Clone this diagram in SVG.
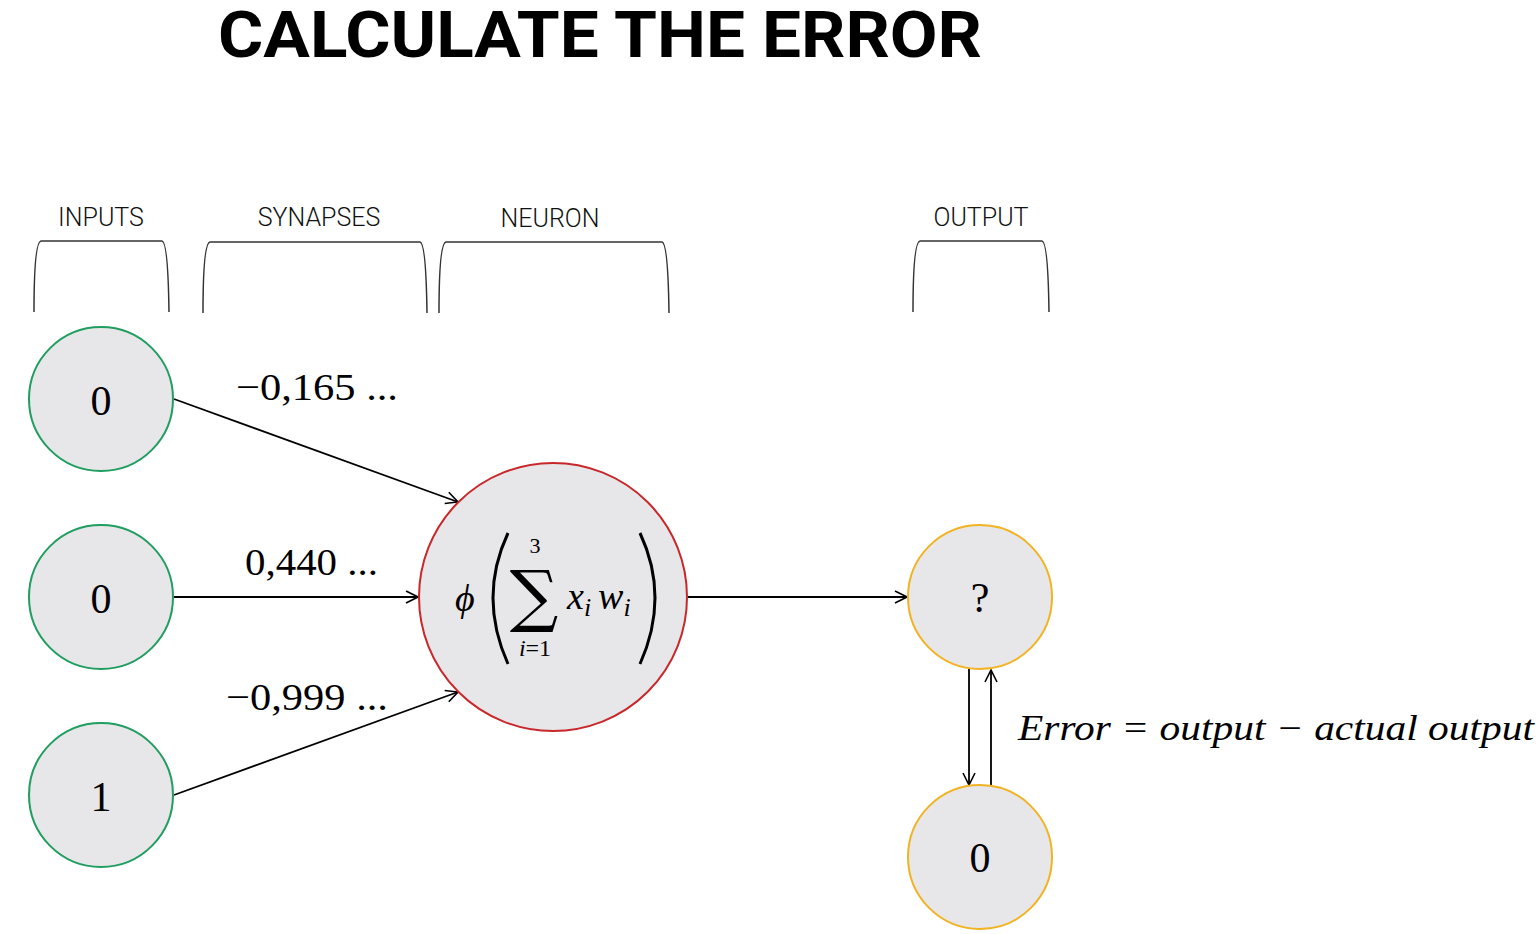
<svg xmlns="http://www.w3.org/2000/svg" width="1538" height="934" viewBox="0 0 1538 934">
<defs>
<marker id="arr" viewBox="0 0 14 14" refX="13" refY="7" markerWidth="14" markerHeight="14" markerUnits="userSpaceOnUse" orient="auto">
<path d="M1,1 L13,7 L1,13" fill="none" stroke="#000" stroke-width="1.6"/>
</marker>
<style>
.hdr{font-family:Roboto,"DejaVu Sans",sans-serif;font-weight:300;font-size:25px;fill:#111;text-anchor:middle}
.brk{fill:none;stroke:#333;stroke-width:1.5}
.in{fill:#e7e6e8;stroke:#1f9e5f;stroke-width:2}
.out{fill:#e7e6e8;stroke:#f2b322;stroke-width:2}
.neu{fill:#e7e6e8;stroke:#c8282b;stroke-width:2}
.num{font-family:"Liberation Serif","DejaVu Serif",serif;font-size:42px;fill:#000;text-anchor:middle}
.w{font-family:"Liberation Serif","DejaVu Serif",serif;font-size:38px;fill:#000}
.it{font-family:"Liberation Serif","DejaVu Serif",serif;font-style:italic;fill:#000}
.ln{stroke:#000;stroke-width:1.8;fill:none}
</style>
</defs>
<rect width="1538" height="934" fill="#fff"/>
<text x="218" y="57" font-family="Roboto,'DejaVu Sans',sans-serif" font-weight="700" font-size="65" textLength="764" lengthAdjust="spacingAndGlyphs" fill="#000">CALCULATE THE ERROR</text>

<g id="headers">
<text class="hdr" x="101" y="226">INPUTS</text>
<text class="hdr" x="319" y="226">SYNAPSES</text>
<text class="hdr" x="550" y="227">NEURON</text>
<text class="hdr" x="981" y="226">OUTPUT</text>
<path class="brk" d="M34,312 Q34,242 41,241 L162,241 Q168,242 169,312"/>
<path class="brk" d="M203,313 Q203,243 210,242 L420,242 Q426,243 427,313"/>
<path class="brk" d="M439,313 Q439,243 446,242 L662,242 Q668,243 669,313"/>
<path class="brk" d="M913,312 Q913,242 920,241 L1042,241 Q1048,242 1049,312"/>
</g>

<g id="connectors">
<line class="ln" x1="174" y1="399" x2="458" y2="502" marker-end="url(#arr)"/>
<line class="ln" x1="174" y1="597" x2="418" y2="597" marker-end="url(#arr)"/>
<line class="ln" x1="174" y1="795" x2="458" y2="692" marker-end="url(#arr)"/>
<line class="ln" x1="688" y1="597" x2="907" y2="597" marker-end="url(#arr)"/>
<line class="ln" x1="969" y1="669" x2="969" y2="785" marker-end="url(#arr)"/>
<line class="ln" x1="991" y1="785" x2="991" y2="670" marker-end="url(#arr)"/>
<text class="w" x="236" y="400" textLength="162" lengthAdjust="spacingAndGlyphs">−0,165 ...</text>
<text class="w" x="245" y="575" textLength="133" lengthAdjust="spacingAndGlyphs">0,440 ...</text>
<text class="w" x="226" y="710" textLength="162" lengthAdjust="spacingAndGlyphs">−0,999 ...</text>
<text class="it" x="1018" y="740" font-size="36" textLength="516" lengthAdjust="spacingAndGlyphs">Error = output  − actual output</text>
</g>

<g id="input1"><circle class="in" cx="101" cy="399" r="72"/><text class="num" x="101" y="415">0</text></g>
<g id="input2"><circle class="in" cx="101" cy="597" r="72"/><text class="num" x="101" y="613">0</text></g>
<g id="input3"><circle class="in" cx="101" cy="795" r="72"/><text class="num" x="101" y="811">1</text></g>

<g id="neuron">
<circle class="neu" cx="553" cy="597" r="134"/>
<text class="it" x="455" y="611" font-size="38">ϕ</text>
<path d="M508,533 Q478,597 508,664" fill="none" stroke="#000" stroke-width="3"/>
<path d="M640,533 Q670,597 640,664" fill="none" stroke="#000" stroke-width="3"/>
<text x="534" y="619" font-family="'DejaVu Serif',serif" font-size="68" text-anchor="middle" fill="#000">∑</text>
<text x="535" y="553" font-family="'Liberation Serif',serif" font-size="22" text-anchor="middle" fill="#000">3</text>
<text x="535" y="656" font-family="'Liberation Serif',serif" font-size="24" text-anchor="middle" fill="#000"><tspan font-style="italic">i</tspan>=1</text>
<text class="it" x="567" y="609" font-size="38">x<tspan font-size="26" dy="7">i</tspan><tspan dy="-7" dx="7">w</tspan><tspan font-size="26" dy="7">i</tspan></text>
</g>

<g id="output"><circle class="out" cx="980" cy="597" r="72"/><text class="num" x="980" y="612">?</text></g>
<g id="actual"><circle class="out" cx="980" cy="857" r="72"/><text class="num" x="980" y="872">0</text></g>
</svg>
